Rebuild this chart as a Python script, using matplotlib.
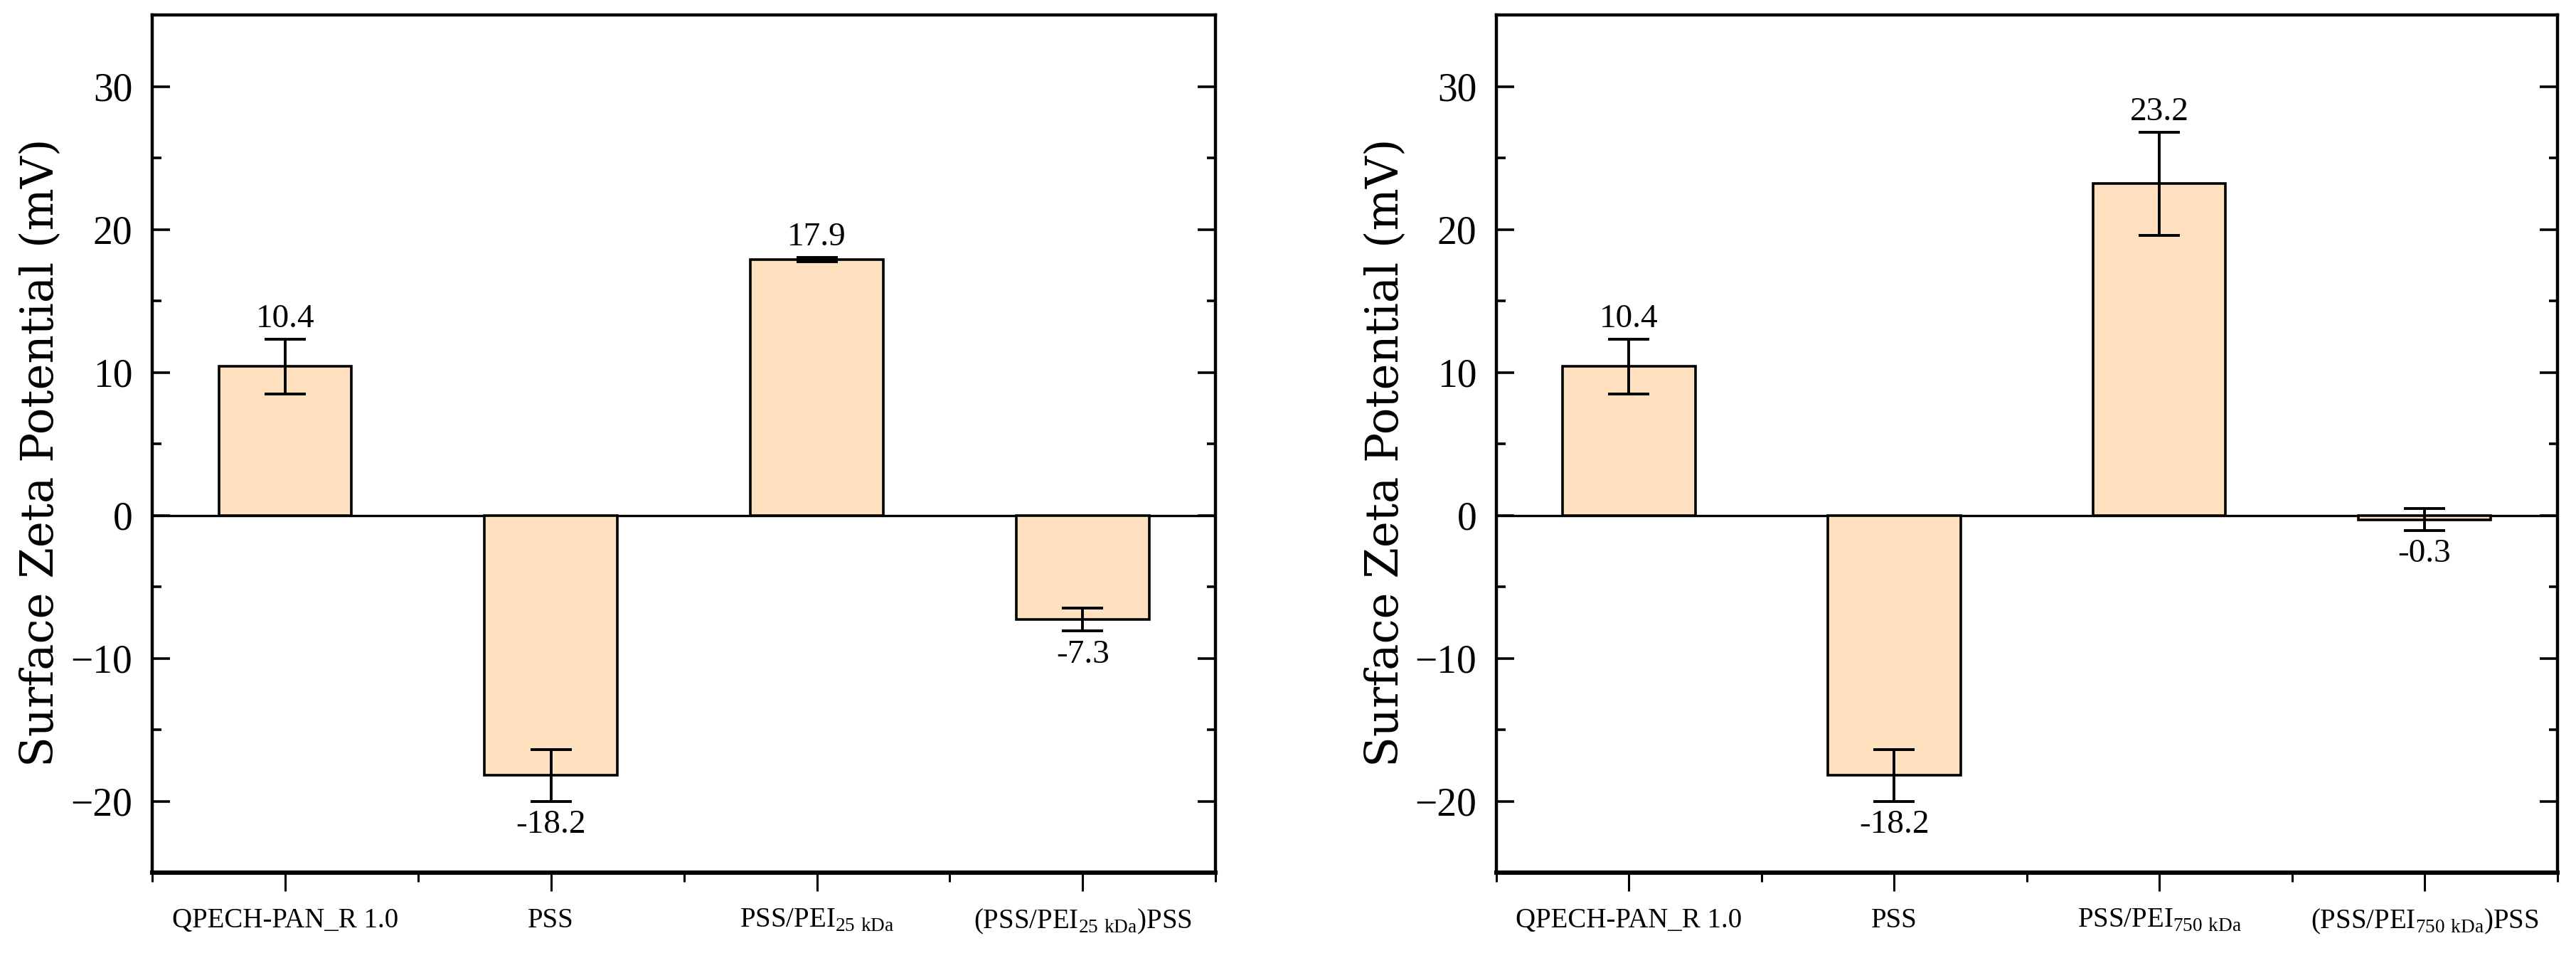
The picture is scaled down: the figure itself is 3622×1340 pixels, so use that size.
import numpy as np
import matplotlib
matplotlib.use('Agg')
import matplotlib.pyplot as plt
from matplotlib.ticker import MultipleLocator

plt.rcParams['font.family'] = 'Liberation Serif'
plt.rcParams['mathtext.fontset'] = 'custom'
plt.rcParams['mathtext.rm'] = 'Liberation Serif'

# data
labels_25 = ['QPECH-PAN_R 1.0', 'PSS', r'PSS/PEI$_{\mathrm{25\ kDa}}$', r'(PSS/PEI$_{\mathrm{25\ kDa}}$)PSS']
zeta_25 = [10.4, -18.2, 17.9, -7.3]
err_25 = [1.9, 1.8, 0.15, 0.8]

labels_750 = ['QPECH-PAN_R 1.0', 'PSS', r'PSS/PEI$_{\mathrm{750\ kDa}}$', r'(PSS/PEI$_{\mathrm{750\ kDa}}$)PSS']
zeta_750 = [10.4, -18.2, 23.2, -0.3]
err_750 = [1.9, 1.8, 3.6, 0.75]

bar_color = '#FFE0BF'

fig = plt.figure(figsize=(36.22, 13.4), dpi=100)
ax1 = fig.add_axes([0.0591, 0.0843, 0.4128, 0.9])
ax2 = fig.add_axes([0.5809, 0.0843, 0.4118, 0.9])


def draw_panel(ax, labels, vals, errs):
    x = np.arange(1, len(vals) + 1)
    ax.bar(x, vals, width=0.5, color=bar_color, edgecolor='black', linewidth=2.6, zorder=2)
    ax.errorbar(x, vals, yerr=errs, fmt='none', ecolor='black', elinewidth=2.8,
                capsize=21, capthick=2.8, zorder=3)
    ax.axhline(0, color='black', linewidth=2.4, zorder=1)
    for xi, v, e in zip(x, vals, errs):
        if v >= 0:
            ax.text(xi, v + e + 0.35, f'{v:.1f}', ha='center', va='bottom', fontsize=34)
        else:
            ax.text(xi, v - e - 0.6, f'{v:.1f}', ha='center', va='top', fontsize=34)

    ax.set_xlim(0.5, 4.5)
    ax.set_ylim(-25, 35)
    ax.set_xticks(x)
    ax.set_xticklabels(labels, fontsize=28)
    ax.set_xticks(np.arange(0.5, 4.6, 1), minor=True)
    ax.set_yticks([-20, -10, 0, 10, 20, 30])
    ax.yaxis.set_minor_locator(MultipleLocator(5))
    ax.tick_params(axis='y', which='both', direction='in', left=True, right=True, labelsize=40, pad=20)
    ax.tick_params(axis='y', which='major', length=18, width=2.6)
    ax.tick_params(axis='y', which='minor', length=9, width=2.6)
    ax.tick_params(axis='x', which='both', direction='out', top=False, bottom=True, pad=16)
    ax.tick_params(axis='x', which='major', length=19, width=2.2)
    ax.tick_params(axis='x', which='minor', length=9.5, width=2.2)
    for side in ['left', 'right', 'top']:
        ax.spines[side].set_linewidth(3.2)
    ax.spines['bottom'].set_linewidth(4.4)
    ax.set_ylabel('Surface Zeta Potential (mV)', fontsize=45, family='DejaVu Serif')
    ax.yaxis.set_label_coords(-0.084, 0.49)


draw_panel(ax1, labels_25, zeta_25, err_25)
draw_panel(ax2, labels_750, zeta_750, err_750)

fig.savefig('out.png', dpi=100)
